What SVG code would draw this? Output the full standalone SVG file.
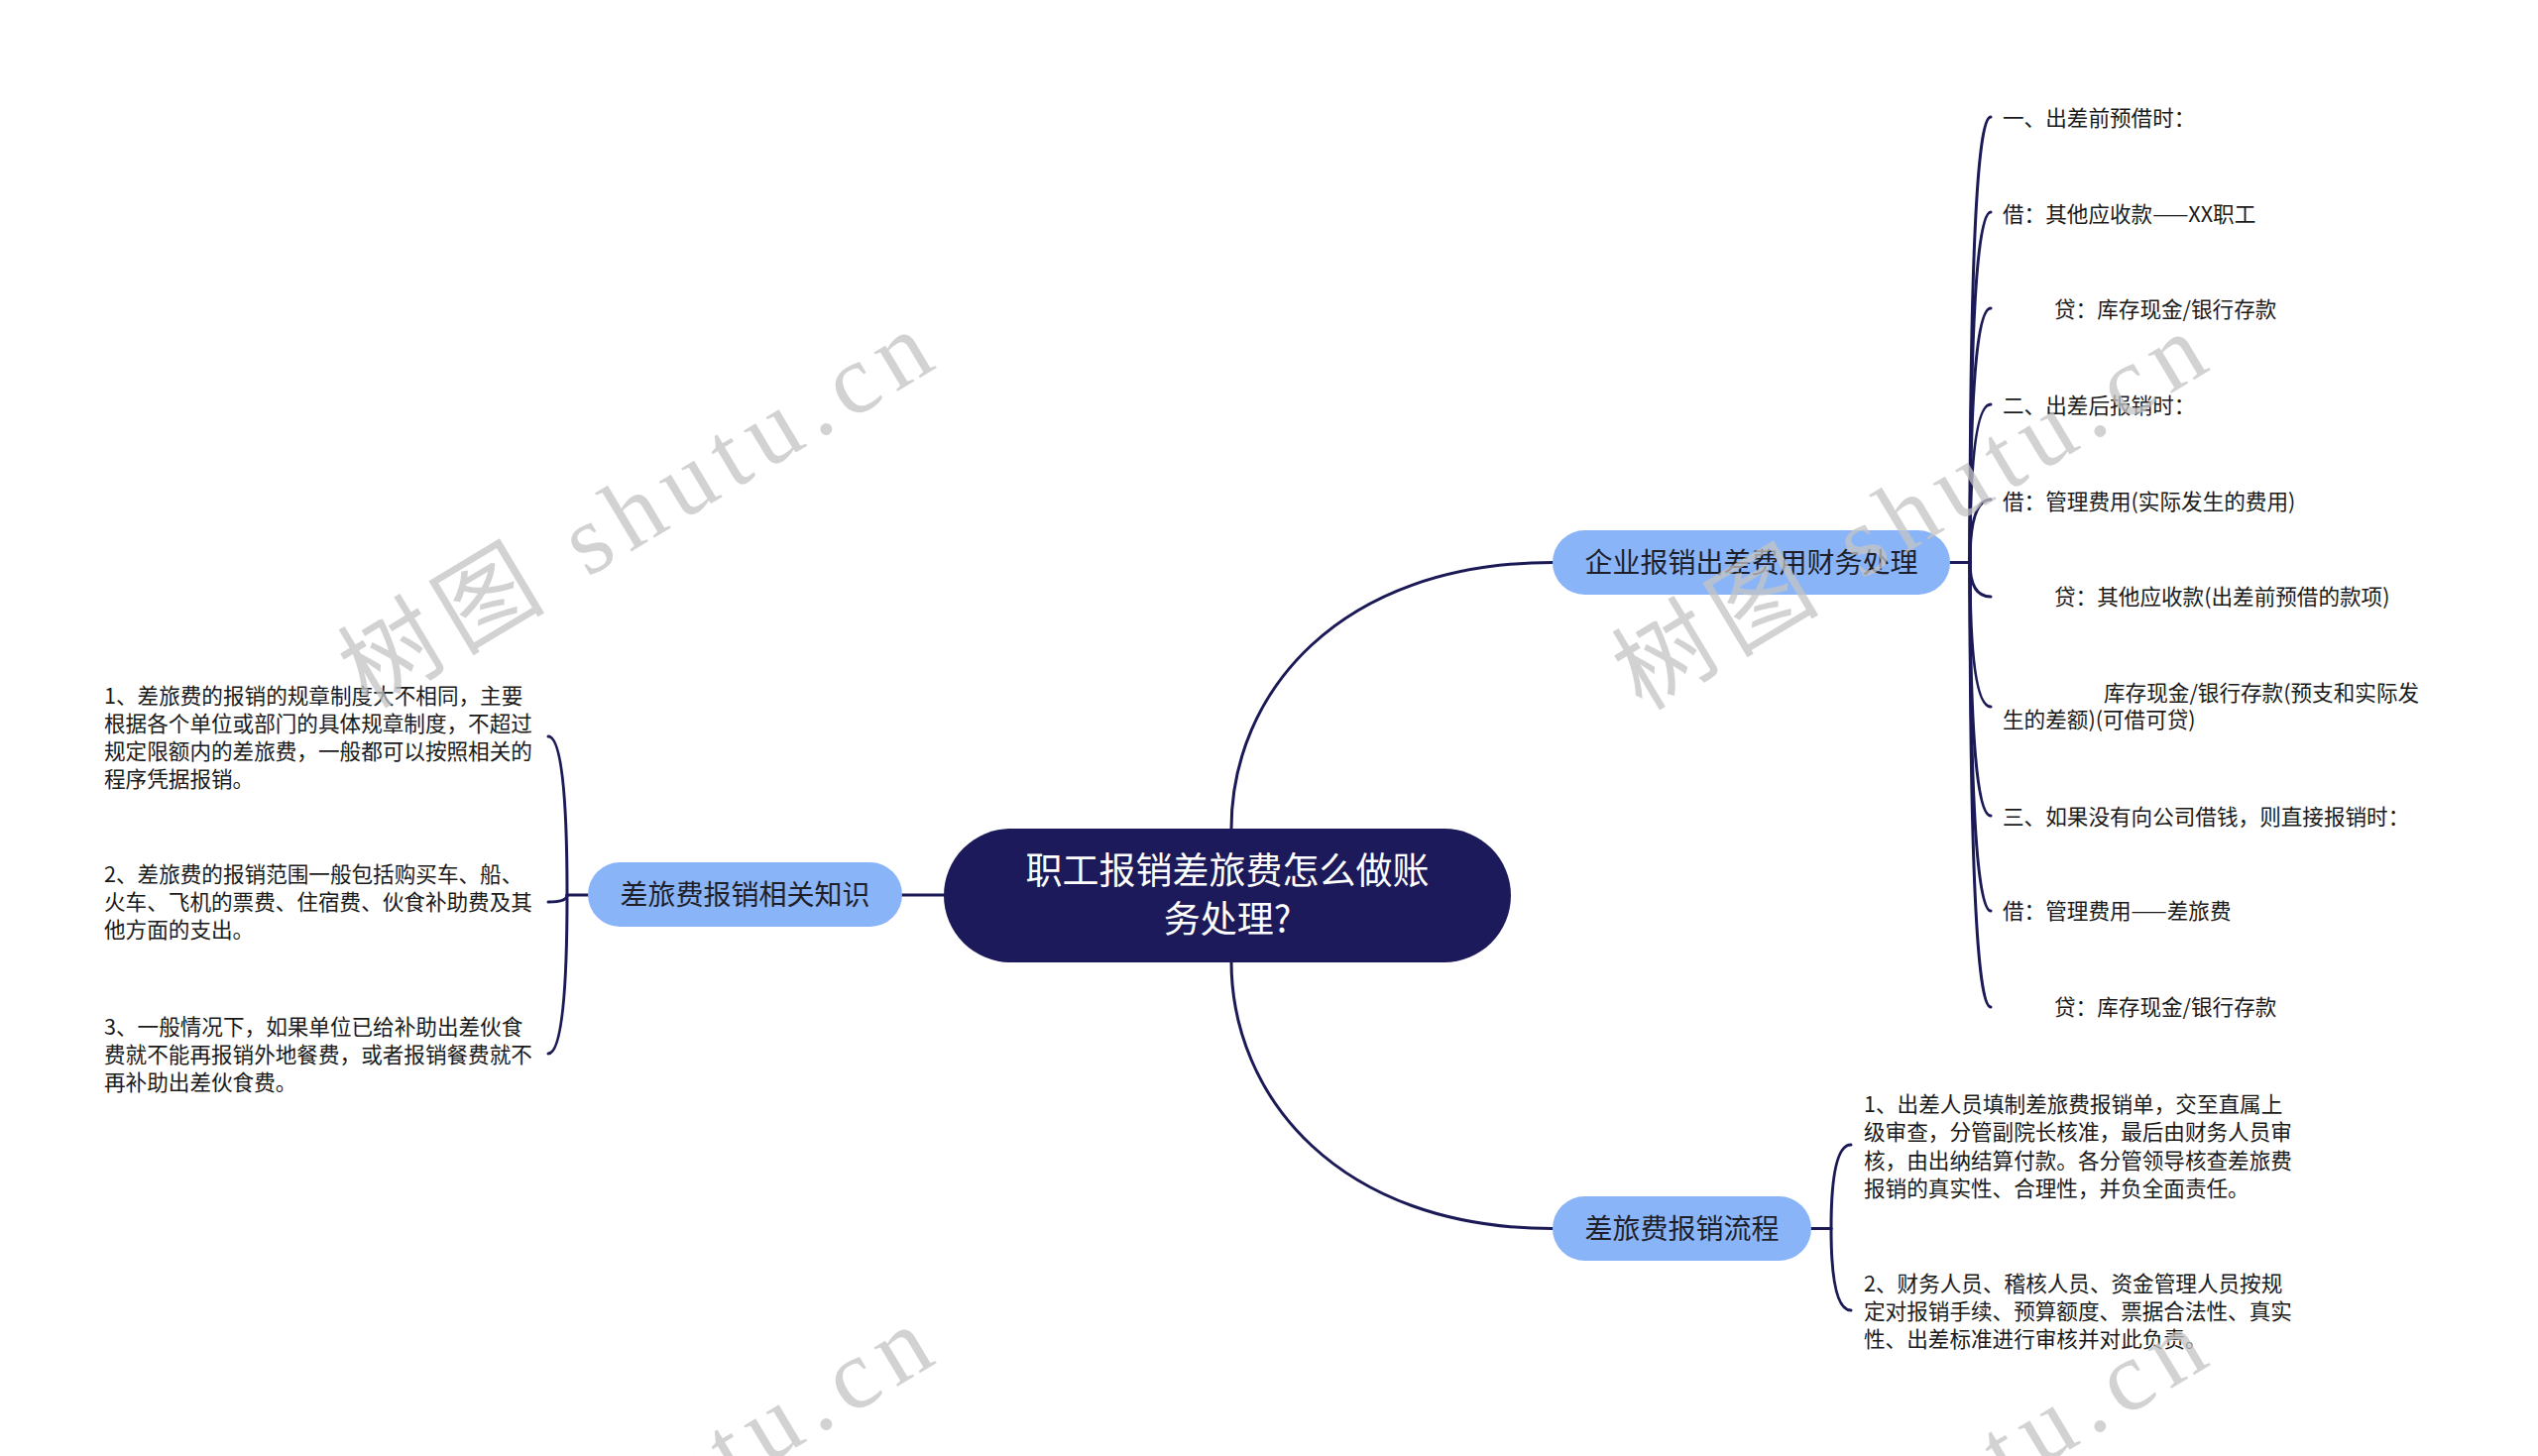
<svg xmlns="http://www.w3.org/2000/svg" width="2560" height="1469" viewBox="0 0 2560 1469">
<style>
.bg{fill:#ffffff}
.conn{fill:none;stroke:#1b1a57;stroke-width:3;stroke-linecap:round}
.root{fill:#1c1a5a}
.rootText{font-family:"Noto Sans CJK SC","Noto Sans",sans-serif;font-size:37px;fill:#ffffff;text-anchor:middle;dominant-baseline:central}
.branch{fill:#8ab4f8}
.branchText{font-family:"Noto Sans CJK SC","Noto Sans",sans-serif;font-size:28px;fill:#1f1f2a;text-anchor:middle;dominant-baseline:central}
.leaf{font-family:"Noto Sans CJK SC","Noto Sans",sans-serif;font-size:21.6px;fill:#1a1a1a;dominant-baseline:central}
.wm{font-family:"Liberation Serif","Noto Sans CJK SC",serif;font-size:100px;letter-spacing:11px;fill:#c4c4c4;opacity:0.75}
</style>
<rect class="bg" x="0" y="0" width="2560" height="1469"/>

<g id="connectors">
  <path class="conn" d="M1242 836 C1242 700 1350 567.5 1566 567.5"/>
  <path class="conn" d="M1242 970 C1242 1106 1350 1239.5 1566 1239.5"/>
  <path class="conn" d="M952 903 L910 903"/>
  <path class="conn" d="M1967 567.5 L1987 567.5"/>
  <path class="conn" d="M1987 567.5 Q1987 118 2008 118"/>
  <path class="conn" d="M1987 567.5 Q1987 214 2008 214"/>
  <path class="conn" d="M1987 567.5 Q1987 311 2008 311"/>
  <path class="conn" d="M1987 567.5 Q1987 408 2008 408"/>
  <path class="conn" d="M1987 567.5 Q1987 504 2008 504"/>
  <path class="conn" d="M1987 567.5 Q1987 602 2008 602"/>
  <path class="conn" d="M1987 567.5 Q1987 713 2008 713"/>
  <path class="conn" d="M1987 567.5 Q1987 823 2008 823"/>
  <path class="conn" d="M1987 567.5 Q1987 919 2008 919"/>
  <path class="conn" d="M1987 567.5 Q1987 1016 2008 1016"/>
  <path class="conn" d="M1827 1239.5 L1847 1239.5"/>
  <path class="conn" d="M1847 1239.5 Q1847 1155 1867 1155"/>
  <path class="conn" d="M1847 1239.5 Q1847 1322 1867 1322"/>
  <path class="conn" d="M593 903 L572 903"/>
  <path class="conn" d="M572 903 Q572 743 553 743"/>
  <path class="conn" d="M572 903 Q572 910 553 910"/>
  <path class="conn" d="M572 903 Q572 1063 553 1063"/>
</g>

<g id="root">
  <rect class="root" x="952" y="836" width="572" height="135" rx="67.5"/>
  <text class="rootText" x="1238" y="876">职工报销差旅费怎么做账</text>
  <text class="rootText" x="1238" y="925">务处理?</text>
</g>

<g id="branch-enterprise">
  <rect class="branch" x="1566" y="535" width="401" height="65" rx="32.5"/>
  <text class="branchText" x="1766.5" y="565.5">企业报销出差费用财务处理</text>
</g>

<g id="branch-process">
  <rect class="branch" x="1566" y="1207" width="261" height="65" rx="32.5"/>
  <text class="branchText" x="1696.5" y="1237.5">差旅费报销流程</text>
</g>

<g id="branch-knowledge">
  <rect class="branch" x="593" y="870" width="317" height="65" rx="32.5"/>
  <text class="branchText" x="751.5" y="900.5">差旅费报销相关知识</text>
</g>

<g id="leaf-e1"><text class="leaf" x="2020" y="117">一、出差前预借时：</text></g>
<g id="leaf-e2"><text class="leaf" x="2020" y="214">借：其他应收款——XX职工</text></g>
<g id="leaf-e3"><text class="leaf" x="2072" y="310">贷：库存现金/银行存款</text></g>
<g id="leaf-e4"><text class="leaf" x="2020" y="407">二、出差后报销时：</text></g>
<g id="leaf-e5"><text class="leaf" x="2020" y="504">借：管理费用(实际发生的费用)</text></g>
<g id="leaf-e6"><text class="leaf" x="2072" y="600">贷：其他应收款(出差前预借的款项)</text></g>
<g id="leaf-e7"><text class="leaf"><tspan x="2122" y="697">库存现金/银行存款(预支和实际发</tspan><tspan x="2020" y="724">生的差额)(可借可贷)</tspan></text></g>
<g id="leaf-e8"><text class="leaf" x="2020" y="822">三、如果没有向公司借钱，则直接报销时：</text></g>
<g id="leaf-e9"><text class="leaf" x="2020" y="917">借：管理费用——差旅费</text></g>
<g id="leaf-e10"><text class="leaf" x="2072" y="1014">贷：库存现金/银行存款</text></g>

<g id="leaf-p1"><text class="leaf">
  <tspan x="1880" y="1112">1、出差人员填制差旅费报销单，交至直属上</tspan>
  <tspan x="1880" y="1140">级审查，分管副院长核准，最后由财务人员审</tspan>
  <tspan x="1880" y="1169">核，由出纳结算付款。各分管领导核查差旅费</tspan>
  <tspan x="1880" y="1197">报销的真实性、合理性，并负全面责任。</tspan>
</text></g>
<g id="leaf-p2"><text class="leaf">
  <tspan x="1880" y="1293">2、财务人员、稽核人员、资金管理人员按规</tspan>
  <tspan x="1880" y="1321">定对报销手续、预算额度、票据合法性、真实</tspan>
  <tspan x="1880" y="1349">性、出差标准进行审核并对此负责。</tspan>
</text></g>

<g id="leaf-k1"><text class="leaf">
  <tspan x="105" y="700">1、差旅费的报销的规章制度大不相同，主要</tspan>
  <tspan x="105" y="728">根据各个单位或部门的具体规章制度，不超过</tspan>
  <tspan x="105" y="756">规定限额内的差旅费，一般都可以按照相关的</tspan>
  <tspan x="105" y="784">程序凭据报销。</tspan>
</text></g>
<g id="leaf-k2"><text class="leaf">
  <tspan x="105" y="880">2、差旅费的报销范围一般包括购买车、船、</tspan>
  <tspan x="105" y="908">火车、飞机的票费、住宿费、伙食补助费及其</tspan>
  <tspan x="105" y="936">他方面的支出。</tspan>
</text></g>
<g id="leaf-k3"><text class="leaf">
  <tspan x="105" y="1034">3、一般情况下，如果单位已给补助出差伙食</tspan>
  <tspan x="105" y="1062">费就不能再报销外地餐费，或者报销餐费就不</tspan>
  <tspan x="105" y="1090">再补助出差伙食费。</tspan>
</text></g>

<g id="watermark">
  <text class="wm" transform="translate(371 716) rotate(-31)">树图 shutu.cn</text>
  <text class="wm" transform="translate(1656 718) rotate(-31)">树图 shutu.cn</text>
  <text class="wm" transform="translate(371 1720) rotate(-31)">树图 shutu.cn</text>
  <text class="wm" transform="translate(1656 1722) rotate(-31)">树图 shutu.cn</text>
</g>
</svg>
